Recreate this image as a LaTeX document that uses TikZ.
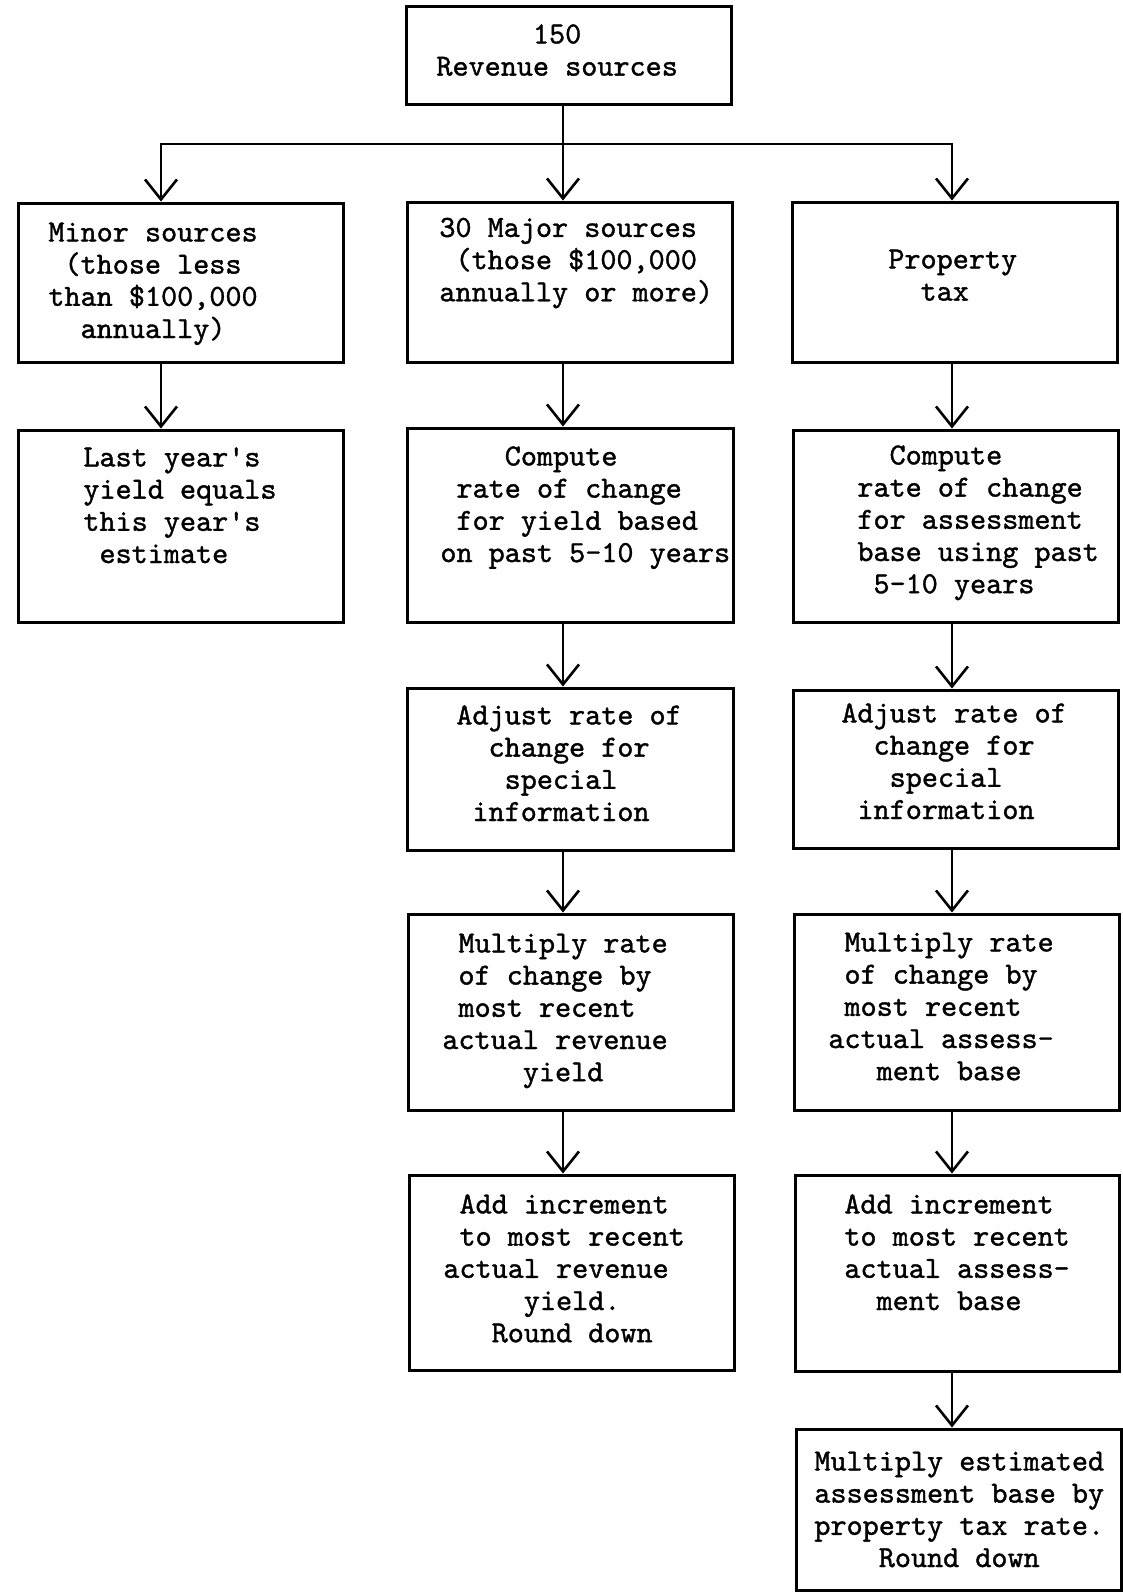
\documentclass[tikz,border=0pt]{standalone}
\usepackage{fontspec}
\newfontfamily\tw{lmmono10-regular.otf}[Ligatures=TeXOff, FakeBold=1.2]
\usetikzlibrary{arrows.meta,fit}

% typewriter indentation by whole character cells
\newcommand\ind[1]{\hspace*{#1\fontcharwd\font`x}}

\tikzset{
  box/.style={draw, line width=1.5pt, inner sep=0pt},
  txt/.style={anchor=north west, inner sep=0pt, align=left,
              font=\tw\fontsize{15.33}{16.1}\selectfont},
  arr/.style={line width=1.3pt,
              -{Straight Barb[length=10pt,width=16pt]}},
  link/.style={line width=1.3pt},
}

% text block: name, left x, first baseline y, lines
\newcommand\boxtext[4]{\node[txt] (#1) at (#2,#3-22.54) {\strut#4};}

\begin{document}
\begin{tikzpicture}[x=0.5pt, y=-0.5pt]
\useasboundingbox (0,0) rectangle (1123,1592);

% column lines of the connectors
\coordinate (cL) at (161,0);
\coordinate (cM) at (563,0);
\coordinate (cR) at (952,0);
\coordinate (j)  at (563,144);

% boxes
\node[box, fit={(406,6) (731,104)}]      (top) {};
\node[box, fit={(18,203) (343,362)}]     (l2) {};
\node[box, fit={(407,202) (732,362)}]    (m2) {};
\node[box, fit={(792,202) (1117,362)}]   (r2) {};
\node[box, fit={(18,430) (343,622)}]     (l3) {};
\node[box, fit={(407,428) (733,622)}]    (m3) {};
\node[box, fit={(793,430) (1118,622)}]   (r3) {};
\node[box, fit={(407,688) (733,850)}]    (m4) {};
\node[box, fit={(793,690) (1118,848)}]   (r4) {};
\node[box, fit={(408,914) (733,1110)}]   (m5) {};
\node[box, fit={(794,914) (1119,1110)}]  (r5) {};
\node[box, fit={(409,1175) (734,1370)}]  (m6) {};
\node[box, fit={(795,1175) (1119,1371)}] (r6) {};
\node[box, fit={(796,1429) (1121,1590)}] (r7) {};

% texts
\boxtext{t-top}{436}{43}{\ind{6}150\\Revenue sources}
\boxtext{t-l2}{48}{241}{Minor sources\\\ind{1}(those less\\than \$100,000\\\ind{2}annually)}
\boxtext{t-m2}{439}{236.5}{30 Major sources\\\ind{1}(those \$100,000\\annually or more)}
\boxtext{t-r2}{888}{268}{Property\\\ind{2}tax}
\boxtext{t-l3}{83}{466}{Last year's\\yield equals\\this year's\\\ind{1}estimate}
\boxtext{t-m3}{440}{465}{\ind{4}Compute\\\ind{1}rate of change\\\ind{1}for yield based\\on past 5-10 years}
\boxtext{t-r3}{857}{464}{\ind{2}Compute\\rate of change\\for assessment\\base using past\\\ind{1}5-10 years}
\boxtext{t-m4}{456}{724}{Adjust rate of\\\ind{2}change for\\\ind{3}special\\\ind{1}information}
\boxtext{t-r4}{841}{722}{Adjust rate of\\\ind{2}change for\\\ind{3}special\\\ind{1}information}
\boxtext{t-m5}{442}{952}{\ind{1}Multiply rate\\\ind{1}of change by\\\ind{1}most recent\\actual revenue\\\ind{5}yield}
\boxtext{t-r5}{828}{951}{\ind{1}Multiply rate\\\ind{1}of change by\\\ind{1}most recent\\actual assess-\\\ind{3}ment base}
\boxtext{t-m6}{443}{1213}{\ind{1}Add increment\\\ind{1}to most recent\\actual revenue\\\ind{5}yield.\\\ind{3}Round down}
\boxtext{t-r6}{844}{1213}{Add increment\\to most recent\\actual assess-\\\ind{2}ment base}
\boxtext{t-r7}{814}{1470}{Multiply estimated\\assessment base by\\property tax rate.\\\ind{4}Round down}

% connectors
\draw[link] (top.south -| cM) -- (j);
\draw[arr] (j) -- (m2.north -| cM);
\draw[arr] (j) -| (l2.north -| cL);
\draw[arr] (j) -| (r2.north -| cR);

\draw[arr] (l2.south -| cL) -- (l3.north -| cL);

\draw[arr] (m2.south -| cM) -- (m3.north -| cM);
\draw[arr] (m3.south -| cM) -- (m4.north -| cM);
\draw[arr] (m4.south -| cM) -- (m5.north -| cM);
\draw[arr] (m5.south -| cM) -- (m6.north -| cM);

\draw[arr] (r2.south -| cR) -- (r3.north -| cR);
\draw[arr] (r3.south -| cR) -- (r4.north -| cR);
\draw[arr] (r4.south -| cR) -- (r5.north -| cR);
\draw[arr] (r5.south -| cR) -- (r6.north -| cR);
\draw[arr] (r6.south -| cR) -- (r7.north -| cR);
\end{tikzpicture}
\end{document}
